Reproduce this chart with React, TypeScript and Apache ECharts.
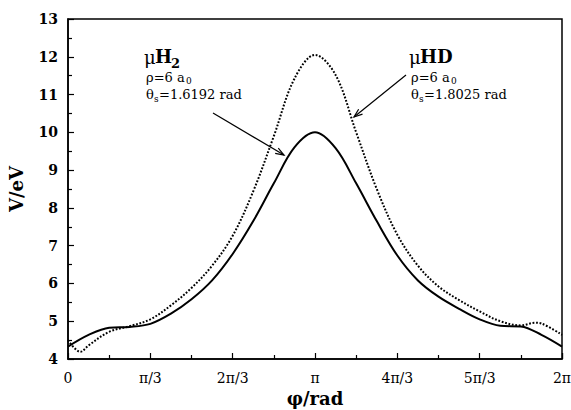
import React, { useEffect, useRef } from "react";
import * as echarts from "echarts";

// x positions in units of π/12
const H2_STEPS = [0, 1, 2, 3, 4, 5, 6, 7, 8, 9, 10, 11, 12, 13, 14, 15, 16, 17, 18, 19, 20, 21, 22, 23, 24];
const H2_VALUES = [4.33, 4.64, 4.83, 4.85, 4.93, 5.2, 5.58, 6.08, 6.78, 7.65, 8.65, 9.6, 10.0, 9.58, 8.65, 7.65, 6.74, 6.08, 5.65, 5.33, 5.05, 4.88, 4.86, 4.64, 4.33];

const HD_STEPS = [0, 0.6, 1, 2, 3, 4, 5, 6, 7, 8, 9, 10, 11, 12, 13, 14, 15, 16, 17, 18, 19, 20, 21, 22, 22.7, 23, 24];
const HD_VALUES = [4.5, 4.19, 4.36, 4.72, 4.87, 5.05, 5.42, 5.88, 6.47, 7.26, 8.44, 9.9, 11.42, 12.05, 11.52, 10.0, 8.5, 7.29, 6.47, 5.92, 5.56, 5.26, 5.0, 4.89, 4.96, 4.94, 4.64];

const X_TICK_LABELS = ["0", "π/3", "2π/3", "π", "4π/3", "5π/3", "2π"];
const Y_MIN = 4;
const Y_MAX = 13;

const SERIF = '"DejaVu Serif", serif';

function arrow(x1: number, y1: number, x2: number, y2: number) {
  const dx = x2 - x1;
  const dy = y2 - y1;
  const len = Math.hypot(dx, dy);
  const ux = dx / len;
  const uy = dy / len;
  const hl = 9;
  const a = (20 * Math.PI) / 180;
  const rot = (c: number, s: number) => [ux * c - uy * s, ux * s + uy * c];
  const [r1x, r1y] = rot(Math.cos(a), Math.sin(a));
  const [r2x, r2y] = rot(Math.cos(-a), Math.sin(-a));
  const ls = { stroke: "#000", lineWidth: 1.2, fill: null };
  return [
    { type: "line", shape: { x1, y1, x2, y2 }, style: ls },
    {
      type: "polyline",
      shape: { points: [[x2 - hl * r1x, y2 - hl * r1y], [x2, y2], [x2 - hl * r2x, y2 - hl * r2y]] },
      style: ls,
    },
  ];
}

function txt(x: number, y: number, text: string, size: number, bold = false) {
  return {
    type: "text",
    x,
    y,
    style: {
      text,
      font: `${bold ? "bold " : ""}${size}px ${SERIF}`,
      fill: "#000",
      verticalAlign: "middle",
      align: "left",
    },
  };
}

export default function App() {
  const ref = useRef<HTMLDivElement>(null);
  useEffect(() => {
    if (!ref.current) return;
    const chart = echarts.init(ref.current, null, { renderer: "svg" });
    const step = Math.PI / 12;
    const h2 = H2_STEPS.map((k, i) => [k * step, H2_VALUES[i]]);
    const hd = HD_STEPS.map((k, i) => [k * step, HD_VALUES[i]]);
    chart.setOption({
      animation: false,
      backgroundColor: "#fff",
      grid: {
        left: 68,
        right: 9,
        top: 19,
        bottom: 51,
        show: true,
        borderColor: "#000",
        borderWidth: 1.5,
        backgroundColor: "transparent",
        outerBoundsMode: "none",
      },
      xAxis: {
        type: "value",
        min: 0,
        max: 2 * Math.PI,
        interval: Math.PI / 3,
        name: "φ/rad",
        nameLocation: "middle",
        nameGap: 29,
        nameTextStyle: { fontFamily: SERIF, fontWeight: "bold", fontSize: 18, color: "#000" },
        axisLine: { lineStyle: { color: "#000", width: 1.5 } },
        axisTick: { inside: true, length: 6, lineStyle: { color: "#000", width: 1.2 } },
        minorTick: { show: true, splitNumber: 2, length: 4, lineStyle: { color: "#000", width: 1.2 } },
        splitLine: { show: false },
        minorSplitLine: { show: false },
        axisLabel: {
          margin: 12,
          fontFamily: SERIF,
          fontSize: 14,
          color: "#000",
          formatter: (v: number) => X_TICK_LABELS[Math.round(v / (Math.PI / 3))] ?? "",
        },
      },
      yAxis: {
        type: "value",
        min: Y_MIN,
        max: Y_MAX,
        interval: 1,
        name: "V/eV",
        nameLocation: "middle",
        nameGap: 43,
        nameTextStyle: { fontFamily: SERIF, fontWeight: "bold", fontSize: 18, color: "#000" },
        axisLine: { lineStyle: { color: "#000", width: 1.5 } },
        axisTick: { inside: true, length: 6, lineStyle: { color: "#000", width: 1.2 } },
        minorTick: { show: true, splitNumber: 2, length: 4, lineStyle: { color: "#000", width: 1.2 } },
        splitLine: { show: false },
        minorSplitLine: { show: false },
        axisLabel: { margin: 10, fontFamily: SERIF, fontSize: 14, fontWeight: "bold", color: "#000" },
      },
      series: [
        {
          name: "μH2",
          type: "line",
          data: h2,
          smooth: 0.35,
          showSymbol: false,
          lineStyle: { color: "#000", width: 2 },
        },
        {
          name: "μHD",
          type: "line",
          data: hd,
          smooth: 0.35,
          showSymbol: false,
          lineStyle: { color: "#000", width: 2, type: [1.8, 1.7], cap: "butt" },
        },
      ],
      graphic: [
        txt(144, 57, "μ", 18, false),
        txt(155, 56, "H", 18, true),
        txt(171, 63, "2", 13, true),
        txt(146, 77, "ρ=6 a", 13),
        txt(186, 81, "0", 9),
        txt(146, 94, "θ", 13),
        txt(154, 99, "s", 9),
        txt(159, 94, "=1.6192 rad", 13),
        txt(409, 57, "μ", 18, false),
        txt(420, 56, "HD", 18, true),
        txt(411, 77, "ρ=6 a", 13),
        txt(451, 81, "0", 9),
        txt(411, 94, "θ", 13),
        txt(419, 99, "s", 9),
        txt(424, 94, "=1.8025 rad", 13),
        ...arrow(213, 113, 284, 155),
        ...arrow(406, 75, 354, 117),
      ],
    });
    return () => chart.dispose();
  }, []);
  return (
    <div
      ref={ref}
      style={{ position: "fixed", left: 0, top: 0, width: 571, height: 410 }}
    />
  );
}
